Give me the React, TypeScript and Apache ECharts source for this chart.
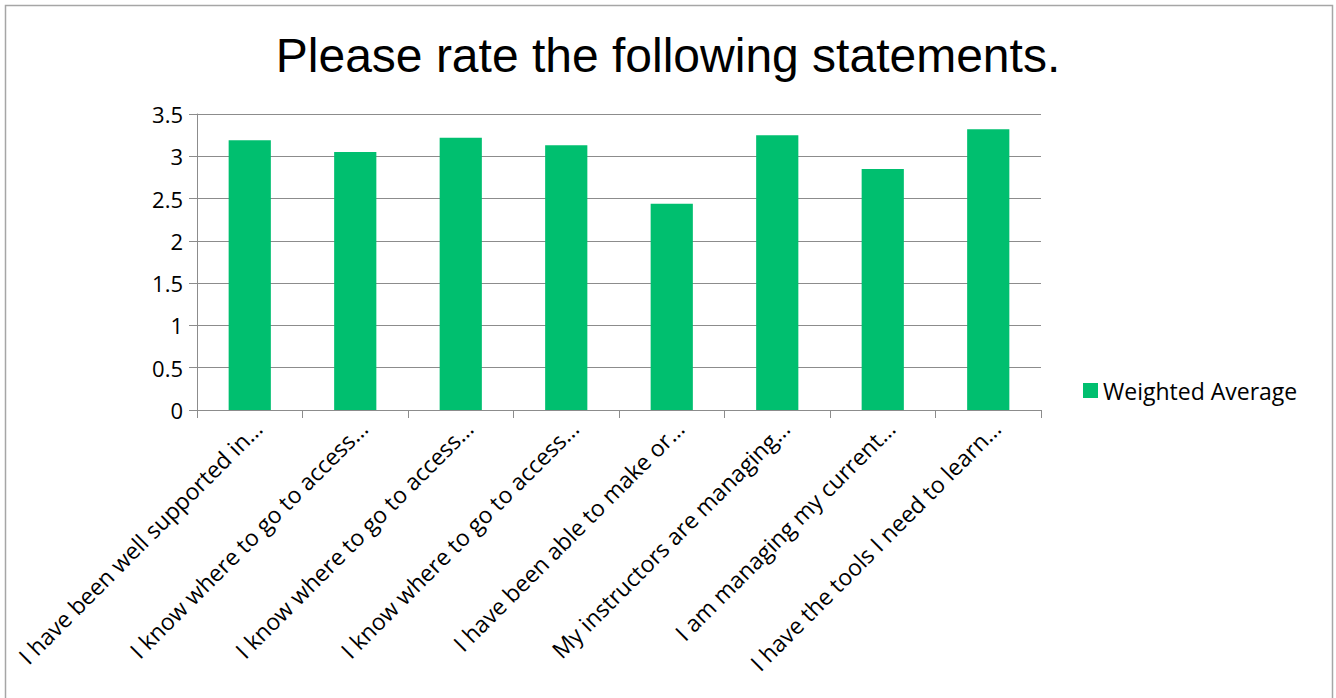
import React, { useEffect, useRef } from "react";
import * as echarts from "echarts";

const titleText = "Please rate the following statements.";
const categories = [
  "I have been well supported in…",
  "I know where to go to access…",
  "I know where to go to access…",
  "I know where to go to access…",
  "I have been able to make or…",
  "My instructors are managing…",
  "I am managing my current…",
  "I have the tools I need to learn…",
];
const seriesName = "Weighted Average";
const weightedAverage = [3.19, 3.05, 3.22, 3.13, 2.44, 3.25, 2.85, 3.32];
const yMin = 0;
const yMax = 3.5;
const yInterval = 0.5;

export default function App() {
  const ref = useRef<HTMLDivElement>(null);
  useEffect(() => {
    if (!ref.current) return;
    const chart = echarts.init(ref.current, null, { renderer: "svg" });
    const labelFont = "'Open Sans', sans-serif";
    chart.setOption({
      animation: false,
      backgroundColor: "#ffffff",
      title: {
        text: titleText,
        left: "center",
        top: 26,
        textStyle: {
          fontFamily: "'Liberation Sans', Arial, sans-serif",
          fontSize: 48,
          fontWeight: "normal",
          color: "#000",
        },
      },
      legend: {
        orient: "vertical",
        left: 1078,
        top: 374,
        itemWidth: 15,
        itemHeight: 15,
        itemGap: 6,
        icon: "rect",
        data: [seriesName],
        textStyle: { fontFamily: labelFont, fontSize: 23, color: "#000" },
      },
      grid: { left: 197, right: 295, top: 114, bottom: 288, containLabel: false },
      xAxis: {
        type: "category",
        data: categories,
        axisLine: { show: true, lineStyle: { color: "#8c8c8c", width: 1 } },
        axisTick: { show: true, length: 8, alignWithLabel: false, lineStyle: { color: "#8c8c8c" } },
        axisLabel: {
          interval: 0,
          rotate: 45,
          margin: 6,
          verticalAlign: "top",
          fontFamily: labelFont,
          fontSize: 23,
          color: "#000",
        },
      },
      yAxis: {
        type: "value",
        min: yMin,
        max: yMax,
        interval: yInterval,
        axisLine: { show: true, lineStyle: { color: "#8c8c8c", width: 1 } },
        axisTick: { show: true, length: 8, lineStyle: { color: "#8c8c8c" } },
        splitLine: { show: true, lineStyle: { color: "#8c8c8c", width: 1 } },
        axisLabel: { margin: 14, fontFamily: labelFont, fontSize: 22, color: "#000" },
      },
      series: [
        {
          name: seriesName,
          type: "bar",
          data: weightedAverage,
          barWidth: "40%",
          itemStyle: { color: "#00BF6F" },
        },
      ],
      graphic: [
        {
          type: "rect",
          shape: { x: 5.5, y: 5.5, width: 1327, height: 720 },
          style: { fill: "none", stroke: "#a6a6a6", lineWidth: 1.5 },
          silent: true,
        },
      ],
    });
    return () => chart.dispose();
  }, []);
  return (
    <div
      ref={ref}
      style={{ position: "fixed", left: 0, top: 0, width: 1336, height: 698 }}
    />
  );
}
